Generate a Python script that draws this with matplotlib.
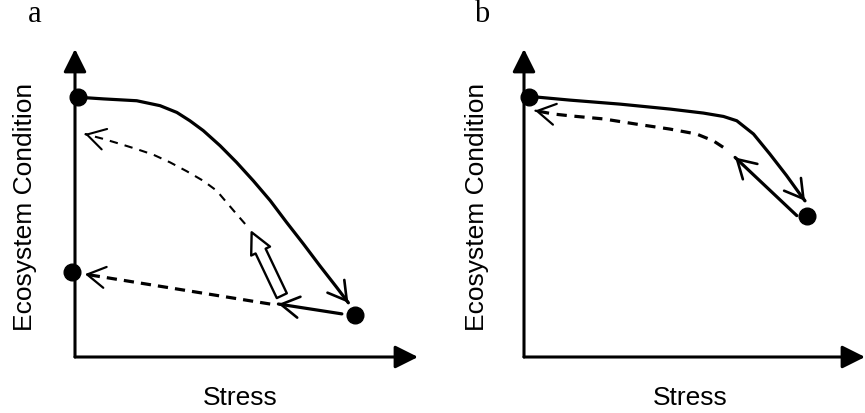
import numpy as np
import matplotlib
matplotlib.use('Agg')
import matplotlib.pyplot as plt

# ---- panel a (stress, condition in arbitrary units 0..10) ----
a_deg_x = [0.15, 0.83, 1.80, 2.48, 2.97, 3.35, 3.74, 4.23, 4.71, 5.20, 5.69,
           6.17, 6.66, 7.14, 7.63, 7.97]
a_deg_y = [8.43, 8.38, 8.32, 8.16, 7.94, 7.67, 7.35, 6.86, 6.32, 5.72, 5.08,
           4.37, 3.67, 2.96, 2.26, 1.76]
a_rec_hi_x = [4.96, 4.71, 4.42, 4.13, 3.74, 3.26, 2.77, 2.28, 1.80, 1.31, 0.83, 0.29]
a_rec_hi_y = [4.32, 4.64, 5.02, 5.40, 5.72, 6.03, 6.32, 6.57, 6.75, 6.92, 7.08, 7.24]
a_rec_lo_x = [5.69, 0.29]
a_rec_lo_y = [1.72, 2.69]
a_relief_x = [7.78, 5.93]
a_relief_y = [1.40, 1.72]
a_block_x = [6.03, 5.15]
a_block_y = [1.99, 4.05]
a_dots_x = [0.09, -0.09, 8.16]
a_dots_y = [8.44, 2.76, 1.36]

# ---- panel b ----
b_deg_x = [0.15, 0.27, 1.35, 2.82, 4.28, 5.26, 5.85, 6.24, 6.73, 7.21, 7.70, 8.09, 8.24]
b_deg_y = [8.44, 8.45, 8.34, 8.21, 8.05, 7.92, 7.81, 7.67, 7.24, 6.59, 5.89, 5.29, 5.07]
b_rec_x = [5.84, 5.55, 5.06, 4.28, 3.30, 2.33, 1.35, 0.86, 0.32]
b_rec_y = [6.81, 7.02, 7.24, 7.40, 7.56, 7.73, 7.83, 7.89, 8.00]
b_relief_x = [8.00, 6.19]
b_relief_y = [4.59, 6.48]
b_dots_x = [0.15, 8.29]
b_dots_y = [8.44, 4.59]


def head(ax, xs, ys, lw):
    # open arrowhead at the last point, pointing along the last segment
    tip = np.array([xs[-1], ys[-1]])
    prev = np.array([xs[-2], ys[-2]])
    back = tip + 0.03 * (prev - tip)
    ax.annotate('', xy=tip, xytext=back, annotation_clip=False,
                arrowprops=dict(arrowstyle='->,head_length=0.65,head_width=0.38',
                                mutation_scale=20, lw=lw, color='black',
                                shrinkA=0, shrinkB=0))


def frame(ax):
    ax.set_xlim(0, 10)
    ax.set_ylim(0, 10)
    ax.axis('off')
    st = dict(arrowstyle='-|>,head_length=0.7,head_width=0.35', mutation_scale=20,
              lw=2.2, color='black', fc='black', shrinkA=0, shrinkB=0)
    ax.annotate('', xy=(10, 0), xytext=(0, 0), arrowprops=st, annotation_clip=False)
    ax.annotate('', xy=(0, 10), xytext=(0, 0), arrowprops=st, annotation_clip=False)


fig = plt.figure(figsize=(8.65, 4.14), dpi=100)
ax_a = fig.add_axes([75 / 865, 56 / 414, 343 / 865, 308 / 414])
ax_b = fig.add_axes([524 / 865, 56 / 414, 341 / 865, 308 / 414])
for ax in (ax_a, ax_b):
    frame(ax)

solid = dict(color='black', lw=2.3, clip_on=False, solid_joinstyle='round',
             solid_capstyle='round')

# panel a
ax_a.plot(a_deg_x, a_deg_y, **solid)
head(ax_a, a_deg_x, a_deg_y, 1.9)
ax_a.plot(a_rec_hi_x, a_rec_hi_y, color='black', lw=1.5,
          linestyle=(0, (4.0, 3.4)), clip_on=False)
head(ax_a, a_rec_hi_x, a_rec_hi_y, 1.5)
ax_a.plot(a_rec_lo_x, a_rec_lo_y, color='black', lw=2.3,
          linestyle=(0, (3.2, 2.2)), clip_on=False)
head(ax_a, a_rec_lo_x, a_rec_lo_y, 1.6)
ax_a.plot(a_relief_x, a_relief_y, **solid)
head(ax_a, a_relief_x, a_relief_y, 1.9)
ax_a.annotate('', xy=(a_block_x[1], a_block_y[1]), xytext=(a_block_x[0], a_block_y[0]),
              arrowprops=dict(arrowstyle='simple,head_length=1.5,head_width=1.5,tail_width=0.8',
                              mutation_scale=10, fc='white', ec='black', lw=1.7,
                              shrinkA=0, shrinkB=0))
ax_a.plot(a_dots_x, a_dots_y, 'o', color='black', ms=12, clip_on=False, zorder=5)

# panel b
ax_b.plot(b_deg_x, b_deg_y, **solid)
head(ax_b, b_deg_x, b_deg_y, 1.9)
ax_b.plot(b_rec_x, b_rec_y, color='black', lw=2.3,
          linestyle=(0, (3.2, 2.4)), clip_on=False)
head(ax_b, b_rec_x, b_rec_y, 1.6)
ax_b.plot(b_relief_x, b_relief_y, **solid)
head(ax_b, b_relief_x, b_relief_y, 1.9)
ax_b.plot(b_dots_x, b_dots_y, 'o', color='black', ms=12, clip_on=False, zorder=5)

# texts
sans = dict(family='Liberation Sans', fontsize=19, color='black')
serif = dict(family='Liberation Serif', fontsize=22, color='black')
fig.text(35 / 865, 1 - 15 / 414, 'a', ha='center', va='center', **serif)
fig.text(482 / 865, 1 - 15 / 414, 'b', ha='center', va='center', **serif)
fig.text(25 / 865, 1 - 207 / 414, 'Ecosystem Condition', rotation=90,
         ha='center', va='center', **sans)
fig.text(477 / 865, 1 - 207 / 414, 'Ecosystem Condition', rotation=90,
         ha='center', va='center', **sans)
fig.text(240 / 865, 1 - 398 / 414, 'Stress', ha='center', va='center', **sans)
fig.text(690 / 865, 1 - 398 / 414, 'Stress', ha='center', va='center', **sans)

fig.savefig('out.png', dpi=100)
